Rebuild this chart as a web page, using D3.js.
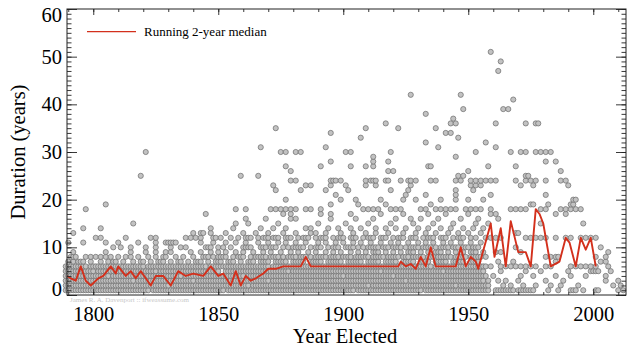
<!DOCTYPE html>
<html>
<head>
<meta charset="utf-8">
<script src="https://cdn.jsdelivr.net/npm/d3@7"></script>
<style>
  body { margin: 0; background: #fff; }
  text { font-family: "Liberation Serif", "Times New Roman", serif; }
</style>
</head>
<body>
<svg id="chart" width="640" height="353"></svg>
<script>
// each row: [duration in years, years elected]  ("a-b" = one member per year from a to b)
var rows = [
  [1, "1789-1822 1824-1852 1854-1904 1906-1931 1933-1958 1961-1968 1970-1976 1982 1986 1991-1993 1996 2001-2002 2010 2012"],
  [2, "1789-1830 1832-1862 1864-1910 1912-1945 1947-1958 1964 1967 1972 1977 1983 1987 1994 2008 2011"],
  [3, "1789-1797 1799-1816 1818-1840 1842-1870 1872-1925 1927-1956 1958 1962 1965 1970 1981 1988 2005 2010"],
  [4, "1789-1806 1808-1835 1837-1860 1862-1900 1902-1920 1922-1957 1960 1971 1976 1985 1991 1997 2005"],
  [5, "1789-1800 1802-1825 1827-1850 1853-1878 1880-1915 1917-1940 1942-1956 1963 1973 1979 1990 1999 2000-2002 2007"],
  [6, "1789-1797 1799-1820 1822-1845 1847-1870 1872-1935 1937-1957 1959 1963 1965 1967 1969 1971 1973 1975 1977 1981 1983 1991 1993 1995 1997 1999 2001 2006"],
  [7, "1790 1792 1794-1796 1799 1803 1806 1808-1809 1812 1816 1819-1820 1823 1826-1828 1831 1834-1835 1838 1841-1843 1846 1849-1851 1854-1856 1859 1862-1864 1867-1870 1873-1877 1880-1884 1887-1891 1894-1899 1902-1907 1910-1914 1917-1921 1924-1928 1931-1934 1937-1941 1944-1948 1951-1954 1962 1968 1985 2003 2005"],
  [8, "1791-1793 1797 1799 1801 1803 1805 1807 1810 1813 1815 1818 1822 1825 1828-1829 1833 1836 1840 1844-1846 1848 1850-1853 1856 1858-1860 1863 1865-1869 1871-1874 1876 1878-1881 1883-1885 1887 1889-1893 1895-1898 1900-1903 1905-1910 1912-1916 1918-1922 1924-1926 1928-1932 1934-1936 1938-1943 1945-1949 1951-1955 1957 1981 1983 1985 1986 2001 2005"],
  [9, "1792 1805 1815 1821 1825 1829 1831 1839 1843 1847 1850 1853 1857 1860 1864 1868 1871 1875 1879 1882 1886 1889 1893 1896 1899 1903 1906 1909 1912-1914 1917 1920 1923 1926-1928 1931 1934 1937-1939 1942 1945 1948 1951-1953 1956 1961 1963 1971 2006"],
  [10, "1808 1811 1815 1821 1825 1831 1835 1837 1845-1847 1850 1852 1855 1860-1863 1867-1869 1871-1873 1876 1878 1880-1884 1887 1889-1891 1894 1896-1898 1901-1904 1906 1908 1910-1914 1916-1918 1920-1923 1925 1927-1930 1932-1935 1937 1939-1942 1944-1946 1948-1950 1952-1954 1969 2003"],
  [11, "1790 1796 1805 1810 1818 1825 1829-1833 1843 1848 1853 1857 1861 1866 1870 1874 1877 1881 1885 1890 1893 1897 1900 1904 1907 1911 1915 1919 1922 1926 1930 1933 1936 1940 1943 1947 1951 1955"],
  [12, "1801 1803 1813 1823 1825 1837 1839 1841 1843 1848-1849 1851 1855 1858 1861-1863 1866 1868-1870 1872-1874 1877-1879 1882 1884-1886 1889 1891-1893 1896 1898-1900 1903-1905 1908 1910-1912 1915-1917 1920 1922-1924 1927-1929 1932 1934-1936 1939-1941 1944 1946-1948 1951 1953 1957 1959 1961 1963 1973 1975 1977 1979 1981 1985 1989 1991 1995 1997 1999 2001"],
  [13, "1792 1840 1843 1844 1847 1853 1860 1865 1870 1876 1881 1887 1889 1893 1899 1904 1909 1913 1918 1924 1929 1933 1937 1942 1946 1950 1955 1969 1970"],
  [14, "1796 1803 1847 1856 1867 1872 1877 1885 1887 1894 1898 1903 1907 1913 1917 1921 1925 1930 1934 1939 1943 1948 1952 1956"],
  [15, "1816 1857 1862 1874 1890 1901 1910 1919 1928 1936 1944 1953 1958 1979 1996"],
  [16, "1861 1869 1879 1881 1895 1905 1912 1921 1927 1931 1938 1947 1954 1962"],
  [17, "1845 1876 1879 1891 1895 1903 1915 1924 1934 1941 1950 1959 1961 1985 1989"],
  [18, "1797 1857 1861 1871 1873 1875 1877 1879 1881 1885 1887 1891 1908 1910 1912 1914 1919 1921 1923 1931 1933 1937 1939 1941 1943 1945 1949 1951 1953 1955 1959 1967 1969 1971 1973 1979 1981 1987 1989 1991 1993 1995"],
  [19, "1805 1895 1906 1917 1935 1975 1976 1982 1991 1992"],
  [20, "1877 1899 1905 1915 1924 1929 1939 1945 1950 1956 1992 1993"],
  [21, "1897 1925 1933 1945 1959 1981"],
  [22, "1873 1883 1893 1902 1919 1926 1945 1952"],
  [23, "1872 1885 1887 1895 1901 1909 1913 1927 1951 1953 1955 1971 1976 1990"],
  [24, "1879 1881 1895 1896 1897 1899 1909 1911 1912 1913 1917 1918 1923 1926 1927 1929 1935 1937 1945 1947 1951 1953 1955 1957 1959 1961 1969 1973 1975 1977 1981 1987 1989"],
  [25, "1819 1859 1866 1946 1948 1973 1974"],
  [26, "1879 1918 1920 1950 1987"],
  [27, "1877 1891 1903 1909 1912 1934 1935 1958 1969"],
  [28, "1895 1912 1918 1981 1985"],
  [29, "1912 1945"],
  [30, "1821 1875 1877 1881 1883 1901 1903 1919 1953 1967 1971 1973 1977 1979 1981 1983"],
  [31, "1867 1893 1938 1961"],
  [32, "1933 1957"],
  [33, "1907 1946"],
  [34, "1895 1941 1943"],
  [35, "1873 1909 1922 1937"],
  [36, "1917 1943 1945 1961 1973 1977 1978"],
  [37, "1944"],
  [38, "1933"],
  [39, "1948 1964 1966"],
  [41, "1968"],
  [42, "1927 1947"],
  [47, "1962"],
  [49, "1963"],
  [51, "1959"]
];

// running 2-year median
var medianYears = [1789.5, 1791, 1793, 1795, 1797, 1799, 1802, 1804, 1807, 1809, 1810, 1813, 1815, 1817, 1819,
  1821, 1823, 1825, 1828, 1831, 1834, 1837, 1840, 1844, 1847, 1850, 1852, 1855, 1857, 1859, 1861, 1863, 1865,
  1868, 1870, 1873, 1876, 1883, 1885, 1887, 1922, 1923, 1925, 1927, 1929, 1931, 1933, 1935, 1937, 1945, 1947,
  1949, 1951, 1953, 1954, 1959, 1960.5, 1963, 1965, 1967, 1970, 1973, 1975, 1977, 1978.5, 1980, 1983, 1986.5,
  1989, 1990.5, 1993, 1995, 1997, 1999, 2001];
var medianValues = [4, 3.5, 3, 6, 3, 2, 3.5, 4, 6, 4.5, 6, 4, 5, 3.5, 5,
  3.5, 2, 4, 4, 2, 5, 4, 4.5, 4, 6, 4, 4.5, 2, 5, 2, 4, 3, 3.5,
  4.5, 5.5, 5.5, 6, 6, 8, 6, 6, 7, 6, 6.5, 5.5, 8, 6, 10, 6, 6, 10,
  6, 8, 7, 5.5, 15, 8, 14, 6, 15.5, 9, 9, 6, 18, 17, 15, 6, 7,
  12, 11, 6, 12, 9.5, 12, 6];

var xTicks = [1800, 1850, 1900, 1950, 2000];
var yTicks = [0, 10, 20, 30, 40, 50, 60];

var points = [];
rows.forEach(function(r) {
  r[1].split(" ").forEach(function(tok) {
    var p = tok.split("-").map(Number);
    var end = p.length > 1 ? p[1] : p[0];
    for (var yr = p[0]; yr <= end; yr++) points.push({ year: yr, dur: r[0] });
  });
});

var margin = { top: 9, right: 14, bottom: 58, left: 67 },
    width = 640 - margin.left - margin.right,
    height = 353 - margin.top - margin.bottom;

var svg = d3.select("#chart");
var chart = svg.append("g")
    .attr("transform", "translate(" + margin.left + "," + margin.top + ")");

var x = d3.scaleLinear().domain([1789.5, 2013.1]).range([0, width]);
var y = d3.scaleLinear().domain([0, 60]).range([height, 0]);

// points
chart.append("g").selectAll("circle")
    .data(points)
  .enter().append("circle")
    .attr("cx", function(d) { return x(d.year); })
    .attr("cy", function(d) { return y(d.dur); })
    .attr("r", 2.6)
    .attr("fill", "#c2c2c2")
    .attr("stroke", "#6a6a6a")
    .attr("stroke-width", 0.7);

// median line
var line = d3.line()
    .x(function(d, i) { return x(medianYears[i]); })
    .y(function(d) { return y(d); });

chart.append("path")
    .datum(medianValues)
    .attr("d", line)
    .attr("fill", "none")
    .attr("stroke", "#d3301c")
    .attr("stroke-width", 1.9)
    .attr("stroke-linejoin", "round");

// frame + ticks
function ticks(axis, tr, vals, size) {
  var g = chart.append("g")
      .attr("transform", tr)
      .call(axis.tickValues(vals).tickSizeInner(size).tickSizeOuter(0).tickFormat(""));
  g.select(".domain").remove();
  g.selectAll("line").attr("stroke", "#222").attr("stroke-width", 0.9);
}
var xMinor = d3.range(1790, 2011, 10), yMinor = d3.range(0, 61, 1);
ticks(d3.axisBottom(x), "translate(0," + height + ")", xMinor, -3);
ticks(d3.axisBottom(x), "translate(0," + height + ")", xTicks, -6);
ticks(d3.axisTop(x), "translate(0,0)", xMinor, -3);
ticks(d3.axisTop(x), "translate(0,0)", xTicks, -6);
ticks(d3.axisLeft(y), "translate(0,0)", yMinor, -4.5);
ticks(d3.axisLeft(y), "translate(0,0)", yTicks, -10);
ticks(d3.axisRight(y), "translate(" + width + ",0)", yMinor, -4.5);
ticks(d3.axisRight(y), "translate(" + width + ",0)", yTicks, -10);

chart.append("rect")
    .attr("width", width).attr("height", height)
    .attr("fill", "none").attr("stroke", "#222").attr("stroke-width", 1);

// tick labels
var xl = chart.append("g")
    .attr("transform", "translate(0," + height + ")")
    .call(d3.axisBottom(x).tickValues(xTicks).tickSize(0).tickPadding(11).tickFormat(d3.format("d")));
xl.select(".domain").remove();
xl.selectAll("text").attr("font-family", "Liberation Serif").attr("font-size", 20.5).attr("fill", "#000");

var yl = chart.append("g")
    .call(d3.axisLeft(y).tickValues(yTicks).tickSize(0).tickPadding(5).tickFormat(d3.format("d")));
yl.select(".domain").remove();
yl.selectAll("text").attr("font-family", "Liberation Serif").attr("font-size", 20.5).attr("fill", "#000");
// end labels are pulled inside the frame, as in the original
yl.selectAll("text").filter(function(d) { return d === 0; }).attr("y", -6);
yl.selectAll("text").filter(function(d) { return d === 60; }).attr("y", 6);

// axis titles
svg.append("text")
    .attr("x", margin.left + x(1900.7)).attr("y", 343)
    .attr("text-anchor", "middle").attr("font-size", 20.5)
    .text("Year Elected");

svg.append("text")
    .attr("transform", "translate(25," + (margin.top + height / 2) + ") rotate(-90)")
    .attr("text-anchor", "middle").attr("font-size", 20.5)
    .text("Duration (years)");

// legend
chart.append("line")
    .attr("x1", 20).attr("x2", 69).attr("y1", 22.7).attr("y2", 22.7)
    .attr("stroke", "#d3301c").attr("stroke-width", 1.2);
chart.append("text")
    .attr("x", 77).attr("y", 27)
    .attr("font-size", 13)
    .text("Running 2-year median");

// credit
svg.append("text")
    .attr("x", 70).attr("y", 302)
    .attr("font-family", "Liberation Sans, Arial, sans-serif")
    .attr("font-size", 7).attr("fill", "#c8c8c8")
    .text("James R. A. Davenport :: ifweassume.com");
</script>
</body>
</html>
